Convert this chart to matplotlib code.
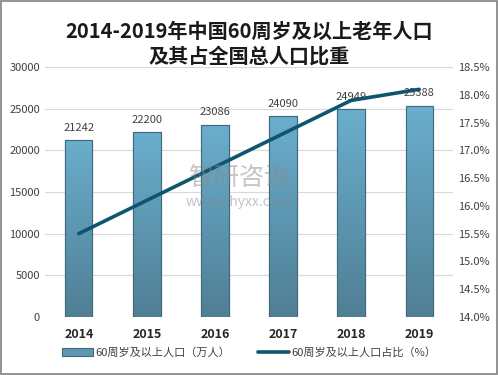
import matplotlib
matplotlib.use("Agg")
import matplotlib.pyplot as plt
import numpy as np
from matplotlib.patches import Rectangle

plt.rcParams['font.family'] = ['Noto Sans CJK SC', 'DejaVu Sans']

years = ['2014', '2015', '2016', '2017', '2018', '2019']
population = [21242, 22200, 23086, 24090, 24949, 25388]
share = [15.5, 16.1, 16.7, 17.3, 17.9, 18.1]

fig = plt.figure(figsize=(4.98, 3.75), dpi=100)
ax = fig.add_axes([0.09, 0.155, 0.82, 0.666])
ax2 = ax.twinx()

x = np.arange(len(years))
bars = ax.bar(x, population, width=0.4, color='#5e97b2', edgecolor='#3f6a7e',
              linewidth=0.8, zorder=2, label='60周岁及以上人口（万人）')

# vertical gradient in each bar
grad = np.linspace(0, 1, 256).reshape(-1, 1)
cmap = matplotlib.colors.LinearSegmentedColormap.from_list('g', ['#507f95', '#6aaecd'])
for b in bars:
    bx, by = b.get_x(), b.get_y()
    w, h = b.get_width(), b.get_height()
    im = ax.imshow(grad, extent=[bx, bx + w, by, by + h], origin='lower',
                   cmap=cmap, aspect='auto', zorder=2.5)
    im.set_clip_path(b)
    ax.add_patch(Rectangle((bx, by), w, h, fill=False, edgecolor='#3f6a7e',
                           linewidth=0.8, zorder=3))

for xi, v in zip(x, population):
    ax.text(xi, v + 900, str(v), ha='center', va='bottom', fontsize=8,
            color='#404040', zorder=4)

ax.set_ylim(0, 30000)
ax.set_yticks(range(0, 30001, 5000))
ax.set_xlim(-0.5, 5.5)
ax.set_xticks(x)
ax.set_xticklabels(years, fontsize=9, fontweight='bold', color='#262626')
ax.grid(axis='y', color='#d9d9d9', linewidth=0.8, zorder=0)
ax.set_axisbelow(True)
ax.tick_params(axis='y', labelsize=8, colors='#404040', length=0)
ax.tick_params(axis='x', length=0, pad=8)

line, = ax2.plot(x, share, color='#0e5570', linewidth=2.6, zorder=5,
                 solid_capstyle='round', label='60周岁及以上人口占比（%）')
ax2.set_ylim(14.0, 18.5)
ax2.set_yticks(np.arange(14.0, 18.51, 0.5))
ax2.set_yticklabels([f'{v:.1f}%' for v in np.arange(14.0, 18.51, 0.5)])
ax2.tick_params(axis='y', labelsize=8, colors='#404040', length=0)

for a in (ax, ax2):
    for s in a.spines.values():
        s.set_visible(False)

fig.text(0.5, 0.945, '2014-2019年中国60周岁及以上老年人口\n及其占全国总人口比重',
         ha='center', va='top', fontsize=14.5, fontweight='bold',
         color='#1a1a1a', linespacing=1.25)

# watermark
fig.text(0.48, 0.525, '智研咨询', ha='center', va='center', fontsize=18,
         color='#8a8a8a', alpha=0.5)
fig.text(0.48, 0.462, 'www.chyxx.com', ha='center', va='center', fontsize=10,
         color='#8a8a8a', alpha=0.5)

fig.legend([bars, line], ['60周岁及以上人口（万人）', '60周岁及以上人口占比（%）'],
           loc='lower center', bbox_to_anchor=(0.5, 0.02), ncol=2, frameon=False,
           fontsize=8, handlelength=2.8, columnspacing=2.5, handletextpad=0.2,
           labelcolor='#404040')

fig.patches.append(Rectangle((0.002, 0.003), 0.995, 0.994, transform=fig.transFigure,
                             fill=False, edgecolor='#808080', linewidth=1.2))

fig.savefig('out.png', dpi=100)
